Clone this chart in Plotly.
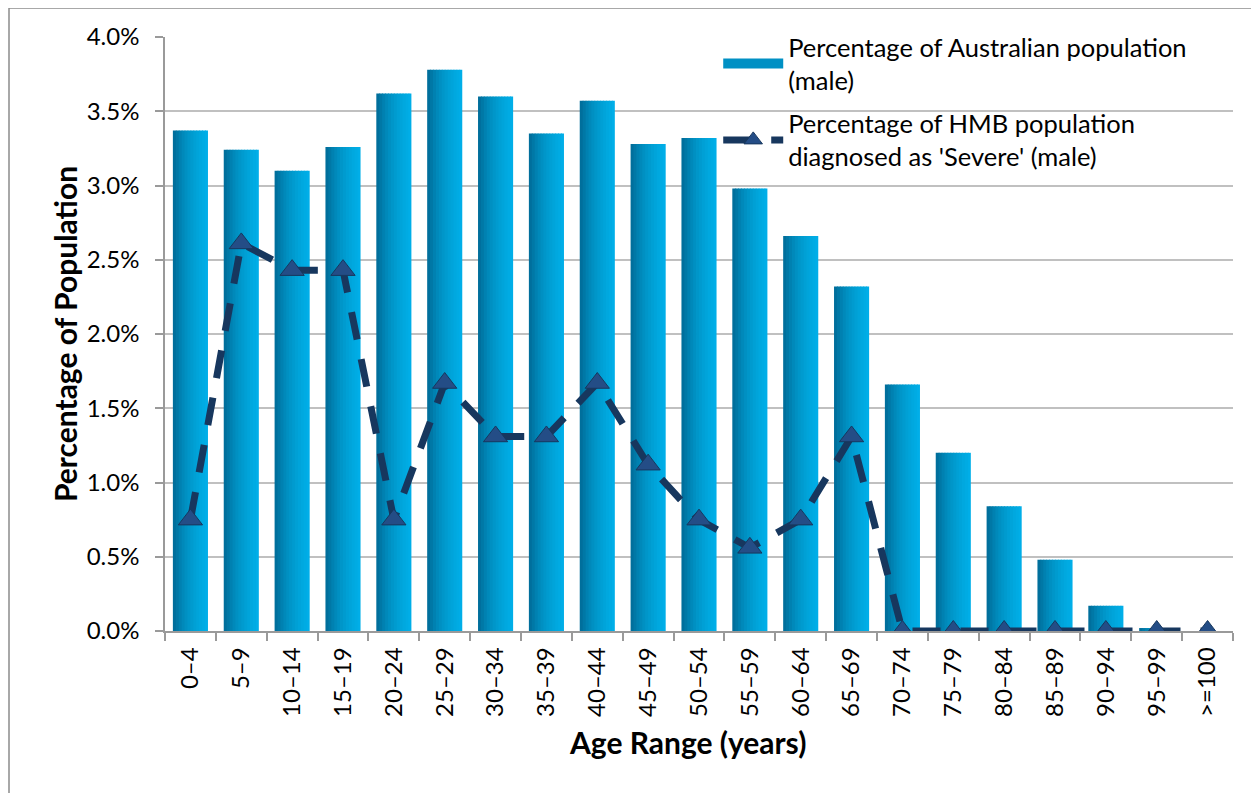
import plotly.graph_objects as go

age_ranges = ["0\u20134", "5\u20139", "10\u201314", "15\u201319", "20\u201324", "25\u201329",
              "30\u201334", "35\u201339", "40\u201344", "45\u201349", "50\u201354", "55\u201359",
              "60\u201364", "65\u201369", "70\u201374", "75\u201379", "80\u201384", "85\u201389",
              "90\u201394", "95\u201399", ">=100"]

aus_pop_male = [3.37, 3.24, 3.10, 3.26, 3.62, 3.78, 3.60, 3.35, 3.57, 3.28, 3.32,
                2.98, 2.66, 2.32, 1.66, 1.20, 0.84, 0.48, 0.17, 0.02, 0.00]

hmb_severe_male = [0.75, 2.61, 2.43, 2.43, 0.75, 1.67, 1.31, 1.31, 1.67, 1.12, 0.75,
                   0.56, 0.75, 1.31, 0.0, 0.0, 0.0, 0.0, 0.0, 0.0, 0.0]

y_ticks = [0, 0.5, 1.0, 1.5, 2.0, 2.5, 3.0, 3.5, 4.0]

FONT = "Lato, 'Open Sans', sans-serif"

fig = go.Figure()

# Bars drawn as vertical stripes to mimic a left-to-right gradient
stripe_colors = ["#006f9c", "#0078a6", "#0081b1", "#0089ba", "#0090c2", "#0096c9",
                 "#009bcf", "#00a0d5", "#00a4da", "#00a8df", "#00abe3", "#00aee8"]
bar_w = 0.69
n = len(stripe_colors)
sw = bar_w / n
for k, c in enumerate(stripe_colors):
    fig.add_trace(go.Bar(
        x=age_ranges, y=aus_pop_male,
        width=sw * 1.3 if k < n - 1 else sw,
        offset=-bar_w / 2 + k * sw,
        marker=dict(color=c, line=dict(width=0)),
        showlegend=False, hoverinfo="skip",
    ))

# legend proxy for bars (wide rectangular swatch)
fig.add_trace(go.Scatter(
    x=[None], y=[None], mode="lines",
    name="Percentage of Australian population<br>(male)",
    line=dict(color="#0090c4", width=15), showlegend=True, legendrank=1, legendgroup="a",
))

fig.add_trace(go.Scatter(
    x=age_ranges, y=hmb_severe_male,
    mode="lines+markers",
    name="Percentage of HMB population<br>diagnosed as 'Severe' (male)",
    line=dict(color="#17375e", width=7, dash="28px,20px"),
    marker=dict(symbol="triangle-up", size=21, color="#244d86",
                line=dict(color="#17375e", width=1)),
    legendrank=2, legendgroup="b",
))

# page body has an 8px offset; plot area lands at x 165..1233, y 37..631
ML, MT, MR, MB = 157, 29, 34, 170
PW, PH = 1259 - ML - MR, 793 - MT - MB

fig.update_layout(
    width=1259, height=793,
    margin=dict(l=ML, r=MR, t=MT, b=MB, autoexpand=False),
    paper_bgcolor="white", plot_bgcolor="white",
    barmode="overlay",
    font=dict(family=FONT, size=24, color="#000000"),
    showlegend=True,
    legend=dict(x=0.518, y=1.022, xanchor="left", yanchor="top",
                bgcolor="rgba(0,0,0,0)", font=dict(size=25.5, family=FONT),
                tracegroupgap=7, itemwidth=60, traceorder="grouped"),
    xaxis=dict(
        type="category", range=[-0.5, len(age_ranges) - 0.5],
        tickangle=-90, tickson="boundaries", ticks="outside", ticklen=8,
        tickcolor="#9a9a9a", tickwidth=1.5, ticklabelstandoff=5,
        showline=True, linecolor="#9a9a9a", linewidth=1.5,
        showgrid=False, tickfont=dict(size=24), automargin=False,
    ),
    yaxis=dict(
        range=[0, 4.0], tickvals=y_ticks, ticktext=[f"{v:.1f}%" for v in y_ticks],
        ticks="outside", ticklen=8, tickcolor="#9a9a9a", tickwidth=1.5,
        ticklabelstandoff=11,
        showline=True, linecolor="#9a9a9a", linewidth=1.5,
        showgrid=True, gridcolor="#c0c0c0", gridwidth=1.5,
        zeroline=False, tickfont=dict(size=24), automargin=False,
        title=dict(text="<b>Percentage of Population</b>", font=dict(size=30), standoff=0),
    ),
    annotations=[dict(text="<b>Age Range (years)</b>", xref="paper", yref="paper",
                      x=(687 - 165) / PW, y=(631 - 742) / PH,
                      xanchor="center", yanchor="middle", showarrow=False,
                      font=dict(size=30, family=FONT, color="#000000"))],
    shapes=[dict(type="rect", xref="paper", yref="paper",
                 x0=(1 - ML) / PW, x1=(1300 - ML) / PW,
                 y0=(MT + PH - 820) / PH, y1=(MT + PH - 0) / PH,
                 line=dict(color="#8c8c8c", width=1.5), fillcolor="rgba(0,0,0,0)",
                 layer="below")],
)

fig.write_html("out.html")
